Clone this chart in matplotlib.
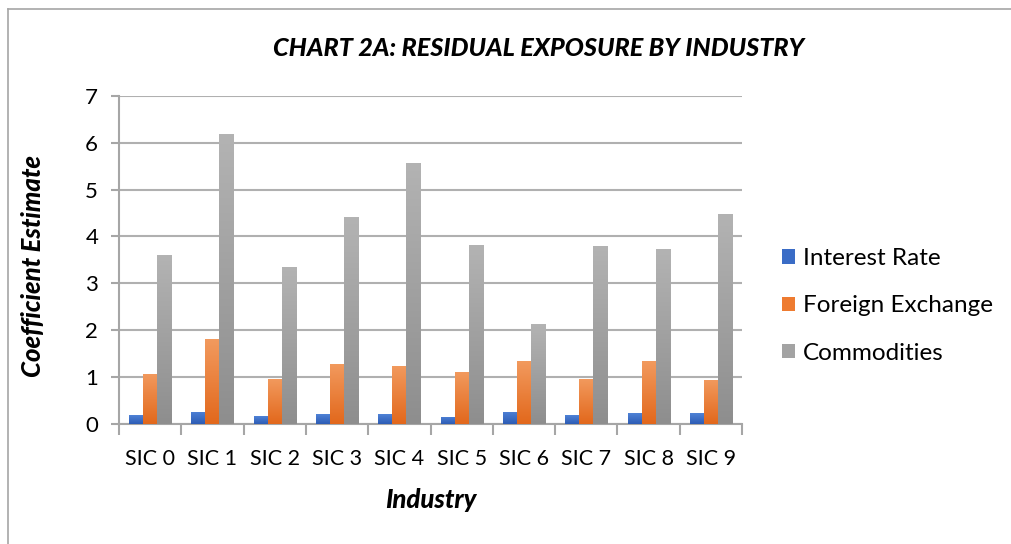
import numpy as np
import matplotlib
matplotlib.use("Agg")
import matplotlib.pyplot as plt
from matplotlib.lines import Line2D
from matplotlib.colors import LinearSegmentedColormap

categories = ["SIC 0", "SIC 1", "SIC 2", "SIC 3", "SIC 4", "SIC 5", "SIC 6", "SIC 7", "SIC 8", "SIC 9"]
interest_rate = [0.19, 0.26, 0.17, 0.21, 0.21, 0.15, 0.26, 0.19, 0.23, 0.23]
foreign_exchange = [1.07, 1.81, 0.96, 1.28, 1.24, 1.11, 1.34, 0.96, 1.34, 0.94]
commodities = [3.60, 6.18, 3.35, 4.41, 5.57, 3.82, 2.13, 3.80, 3.73, 4.48]
series_names = ["Interest Rate", "Foreign Exchange", "Commodities"]
yticks = [0, 1, 2, 3, 4, 5, 6, 7]

plt.rcParams['font.family'] = ['Lato', 'DejaVu Sans']

W, H = 1011, 544
fig = plt.figure(figsize=(W / 100, H / 100), dpi=100)
ax = fig.add_axes([119 / W, 1 - 424 / H, (742 - 119) / W, (424 - 95.7) / H])

# chart border (only top and left edges fall inside the image)
fig.lines.append(Line2D([7.5 / W, 1.0], [1 - 8.5 / H, 1 - 8.5 / H], transform=fig.transFigure,
                        color="#a6a6a6", linewidth=1.2))
fig.lines.append(Line2D([7.5 / W, 7.5 / W], [0, 1 - 8.5 / H], transform=fig.transFigure,
                        color="#a6a6a6", linewidth=1.2))

grads = [("#4f82d6", "#2d5cb5"), ("#f29a5e", "#e2681c"), ("#b3b3b3", "#8e8e8e")]
solid = ["#3a6cc6", "#ee7b30", "#a3a3a3"]
x = np.arange(len(categories))
bw = 0.225
data = [interest_rate, foreign_exchange, commodities]
offsets = [-bw, 0, bw]
handles = []
for vals, off, (ctop, cbot), sc, name in zip(data, offsets, grads, solid, series_names):
    bars = ax.bar(x + off, vals, width=bw, color=sc, label=name, zorder=2, linewidth=0)
    cmap = LinearSegmentedColormap.from_list("g", [cbot, ctop])
    for b in bars:
        x0, y0 = b.get_x(), b.get_y()
        w, h = b.get_width(), b.get_height()
        im = ax.imshow(np.linspace(0, 1, 100).reshape(-1, 1), cmap=cmap, origin="lower",
                       extent=[x0, x0 + w, y0, y0 + h], aspect="auto", zorder=3)
        im.set_clip_path(b)
    handles.append(bars)

ax.set_xlim(-0.5, len(categories) - 0.5)
ax.set_ylim(0, 7)
ax.set_yticks(yticks)
ax.set_yticklabels([str(t) for t in yticks])
ax.set_xticks(x)
ax.set_xticklabels(categories)
ax.set_xticks(np.arange(-0.5, len(categories), 1), minor=True)

ax.grid(axis="y", color="#b0b0b0", linewidth=1.5, zorder=0)
ax.set_axisbelow(True)
for s in ["top", "right"]:
    ax.spines[s].set_visible(False)
for s in ["left", "bottom"]:
    ax.spines[s].set_color("#a6a6a6")
    ax.spines[s].set_linewidth(1.5)
ax.tick_params(axis="x", which="major", length=0, labelsize=15.5, pad=18, colors="#000000")
ax.tick_params(axis="x", which="minor", length=8, width=1.5, color="#a6a6a6")
ax.tick_params(axis="y", length=6, width=1.5, color="#a6a6a6", labelsize=16, pad=9)

ax.set_xlabel("Industry", fontsize=18.5, fontweight="black", fontstyle="italic", labelpad=14)
ax.set_ylabel("Coefficient Estimate", fontsize=18.5, fontweight="black", fontstyle="italic")
ax.yaxis.set_label_coords(45 / W, 1 - 266 / H, transform=fig.transFigure)

fig.text(539 / W, 1 - 48 / H, "CHART 2A: RESIDUAL EXPOSURE BY INDUSTRY", ha="center", va="center",
         fontsize=18.2, fontweight="black", fontstyle="italic")

leg = ax.legend(handles=handles, labels=series_names, loc="center left", bbox_to_anchor=(760 / W, 1 - 306 / H),
                bbox_transform=fig.transFigure, frameon=False, fontsize=17.5, handlelength=0.55, handleheight=0.55,
                handletextpad=0.3, labelspacing=1.08)

fig.savefig("out.png", dpi=100)
